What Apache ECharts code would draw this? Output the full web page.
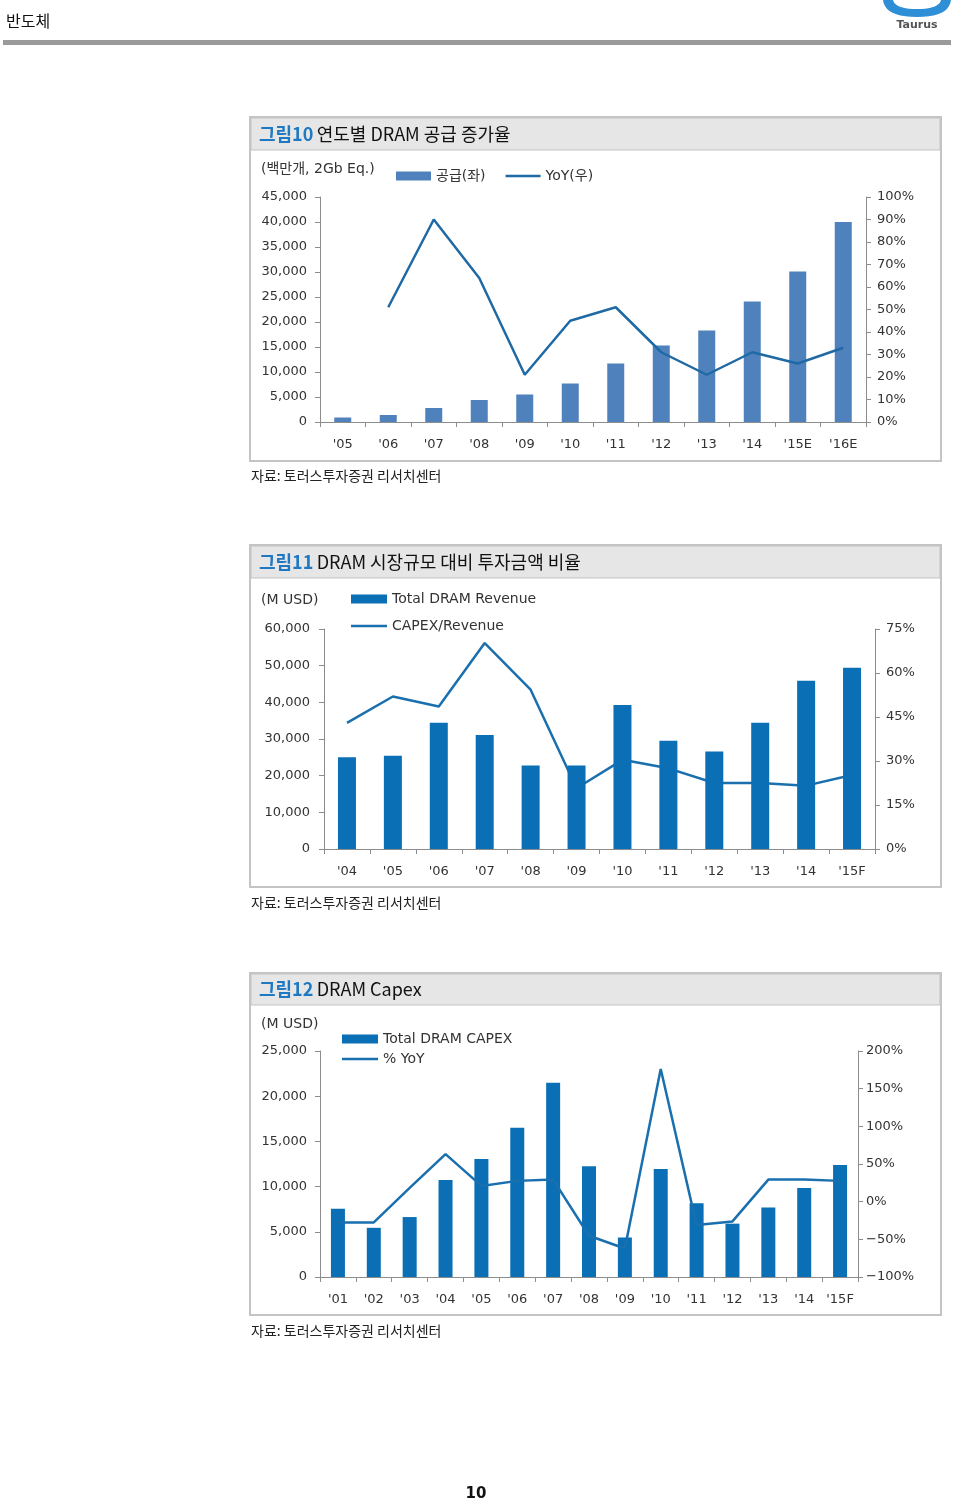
<!DOCTYPE html>
<html><head><meta charset="utf-8">
<script src="https://cdn.jsdelivr.net/npm/echarts@6/dist/echarts.min.js"></script>
<style>html,body{margin:0;padding:0;background:#fff}#c{width:960px;height:1502px}</style>
</head><body><div id="c"></div>
<script>
// ---- data ----
const cat1 = ["'05","'06","'07","'08","'09","'10","'11","'12","'13","'14","'15E","'16E"];
const supply = [900,1400,2800,4400,5500,7700,11700,15300,18300,24100,30100,40000];
const supplyYoY = [null,51,90,64,21,45,51,31,21,31,26,33];

const cat2 = ["'04","'05","'06","'07","'08","'09","'10","'11","'12","'13","'14","'15F"];
const revenue = [25000,25400,34400,31100,22800,22800,39300,29500,26600,34400,45900,49400];
const capexRatio = [43,52,48.6,70.2,54.3,20.7,30.4,27.5,22.5,22.5,21.6,25.2];

const cat3 = ["'01","'02","'03","'04","'05","'06","'07","'08","'09","'10","'11","'12","'13","'14","'15F"];
const capex = [7560,5440,6630,10740,13040,16500,21500,12260,4370,11960,8150,5900,7700,9850,12400];
const capexYoY = [-27.6,-27.6,18.2,63.1,20.9,27.6,29.3,-45.3,-62.2,176,-31.1,-26.2,29.3,29.3,27.6];

// ---- style ----
const FONT = "'DejaVu Sans','Noto Sans CJK KR',sans-serif";
const KFONT = "'Noto Sans CJK KR',sans-serif";
const AX = '#8c8c8c';
const LBL = {fontFamily: FONT, fontSize: 13, color: '#333'};
const lineIcon = 'path://M0,0H40V3H0Z';

function catAxis(gi, data){
  return {type:'category', gridIndex:gi, data:data, boundaryGap:true,
    axisLine:{lineStyle:{color:AX}}, axisTick:{show:true, length:5, lineStyle:{color:AX}, alignWithLabel:false},
    axisLabel:Object.assign({interval:0, margin:16}, LBL)};
}
function valAxis(gi, pos, min, max, interval, fmt, margin){
  return {type:'value', gridIndex:gi, position:pos, min:min, max:max, interval:interval,
    splitLine:{show:false},
    axisLine:{show:true, lineStyle:{color:AX}}, axisTick:{show:true, length:5, lineStyle:{color:AX}},
    axisLabel:Object.assign({margin:margin, formatter:fmt}, LBL)};
}
const numFmt = v => v.toLocaleString('en-US');
const pctFmt = v => String(v).replace('-', '\u2212') + '%';

function box(y, h, bandH, title, num){
  return [
    {type:'rect', z:-10, shape:{x:250, y:y, width:691, height:h}, style:{fill:'#fff', stroke:'#c4c4c4', lineWidth:2}},
    {type:'rect', z:-9, shape:{x:251, y:y+1, width:689, height:bandH}, style:{fill:'#e6e6e6', stroke:'#c4c4c4', lineWidth:1}},
    {type:'text', z:5, x:259, y:y+bandH/2+1, style:{
      text:'{a|' + num + '} {b|' + title + '}', verticalAlign:'middle',
      rich:{a:{fontFamily:KFONT, fontSize:18, fontWeight:'bold', fill:'#1e78c2'},
            b:{fontFamily:KFONT, fontSize:18, fill:'#111'}}}}
  ];
}
function src(y){
  return {type:'text', x:251, y:y, style:{text:'자료: 토러스투자증권 리서치센터', fontFamily:KFONT, fontSize:14, fill:'#222', verticalAlign:'middle'}};
}
// logo arc outline (decorative)
function logoPts(){
  const pts = [];
  const q = (p0,p1,p2,t) => [(1-t)*(1-t)*p0[0]+2*(1-t)*t*p1[0]+t*t*p2[0], (1-t)*(1-t)*p0[1]+2*(1-t)*t*p1[1]+t*t*p2[1]];
  for (let i=0;i<=10;i++) pts.push(q([883,0],[885,17],[917,17],i/10));
  for (let i=1;i<=10;i++) pts.push(q([917,17],[949,17],[951,0],i/10));
  for (let i=0;i<=10;i++) pts.push(q([941,0],[939,9],[917,9],i/10));
  for (let i=1;i<=10;i++) pts.push(q([917,9],[895,9],[893,0],i/10));
  return pts;
}

const graphic = [
  {type:'text', x:6, y:21, style:{text:'반도체', fontFamily:KFONT, fontSize:16, fill:'#111', verticalAlign:'middle'}},
  {type:'rect', shape:{x:3, y:40, width:948, height:5}, style:{fill:'#9a9a9a'}},
  {type:'polygon', shape:{points:logoPts()}, style:{fill:'#2f8fd6'}},
  {type:'text', x:917, y:25, style:{text:'Taurus', fontFamily:FONT, fontSize:11, fontWeight:'bold', fill:'#555', align:'center', verticalAlign:'middle'}},
  ...box(117, 344, 32, '연도별 DRAM 공급 증가율', '그림10'),
  {type:'text', x:261, y:169, style:{text:'(백만개, 2Gb Eq.)', fontFamily:FONT, fontSize:14, fill:'#333', verticalAlign:'middle'}},
  src(476),
  ...box(545, 342, 32, 'DRAM 시장규모 대비 투자금액 비율', '그림11'),
  {type:'text', x:261, y:600, style:{text:'(M USD)', fontFamily:FONT, fontSize:14, fill:'#333', verticalAlign:'middle'}},
  src(903),
  ...box(973, 342, 31, 'DRAM Capex', '그림12'),
  {type:'text', x:261, y:1024, style:{text:'(M USD)', fontFamily:FONT, fontSize:14, fill:'#333', verticalAlign:'middle'}},
  src(1331),
  {type:'text', x:476, y:1494, style:{text:'10', fontFamily:FONT, fontSize:15, fontWeight:'bold', fill:'#111', align:'center', verticalAlign:'middle'}}
];

const legTxt = {fontFamily:FONT, fontSize:14, color:'#333'};

const option = {
  animation:false,
  backgroundColor:'#fff',
  graphic: graphic,
  grid:[
    {left:320, right:94, top:197, height:225},
    {left:324, right:85, top:629, height:220},
    {left:320, right:102, top:1051, height:226}
  ],
  legend:[
    {data:[{name:'공급(좌)', icon:'rect'},{name:'YoY(우)', icon:lineIcon}], left:396, top:169, padding:0,
     itemWidth:35, itemHeight:9, itemGap:20, textStyle:legTxt},
    {orient:'vertical', data:[{name:'Total DRAM Revenue', icon:'rect'},{name:'CAPEX/Revenue', icon:lineIcon}], left:351, top:592, padding:0,
     itemWidth:36, itemHeight:9, itemGap:13, textStyle:legTxt},
    {orient:'vertical', data:[{name:'Total DRAM CAPEX', icon:'rect'},{name:'% YoY', icon:lineIcon}], left:342, top:1032, padding:0,
     itemWidth:36, itemHeight:9, itemGap:6, textStyle:legTxt}
  ],
  xAxis:[catAxis(0, cat1), catAxis(1, cat2), catAxis(2, cat3)],
  yAxis:[
    valAxis(0,'left',0,45000,5000,numFmt,13),
    valAxis(0,'right',0,100,10,pctFmt,11),
    valAxis(1,'left',0,60000,10000,numFmt,14),
    valAxis(1,'right',0,75,15,pctFmt,11),
    valAxis(2,'left',0,25000,5000,numFmt,13),
    valAxis(2,'right',-100,200,50,pctFmt,8)
  ],
  series:[
    {name:'공급(좌)', type:'bar', xAxisIndex:0, yAxisIndex:0, data:supply, barWidth:17, itemStyle:{color:'#4f81bd'}},
    {name:'YoY(우)', type:'line', xAxisIndex:0, yAxisIndex:1, data:supplyYoY, symbol:'none', lineStyle:{color:'#1f6aa5', width:2.5}, itemStyle:{color:'#1f6aa5'}, z:3},
    {name:'Total DRAM Revenue', type:'bar', xAxisIndex:1, yAxisIndex:2, data:revenue, barWidth:18, itemStyle:{color:'#0a6fb4'}, z:3},
    {name:'CAPEX/Revenue', type:'line', xAxisIndex:1, yAxisIndex:3, data:capexRatio, symbol:'none', lineStyle:{color:'#1a6fae', width:2.5}, itemStyle:{color:'#1a6fae'}, z:2},
    {name:'Total DRAM CAPEX', type:'bar', xAxisIndex:2, yAxisIndex:4, data:capex, barWidth:14, itemStyle:{color:'#0a6fb4'}},
    {name:'% YoY', type:'line', xAxisIndex:2, yAxisIndex:5, data:capexYoY, symbol:'none', lineStyle:{color:'#1a6fae', width:2.5}, itemStyle:{color:'#1a6fae'}, z:3}
  ]
};
const chart = echarts.init(document.getElementById('c'), null, {renderer:'canvas'});
chart.setOption(option);
</script>
</body></html>
